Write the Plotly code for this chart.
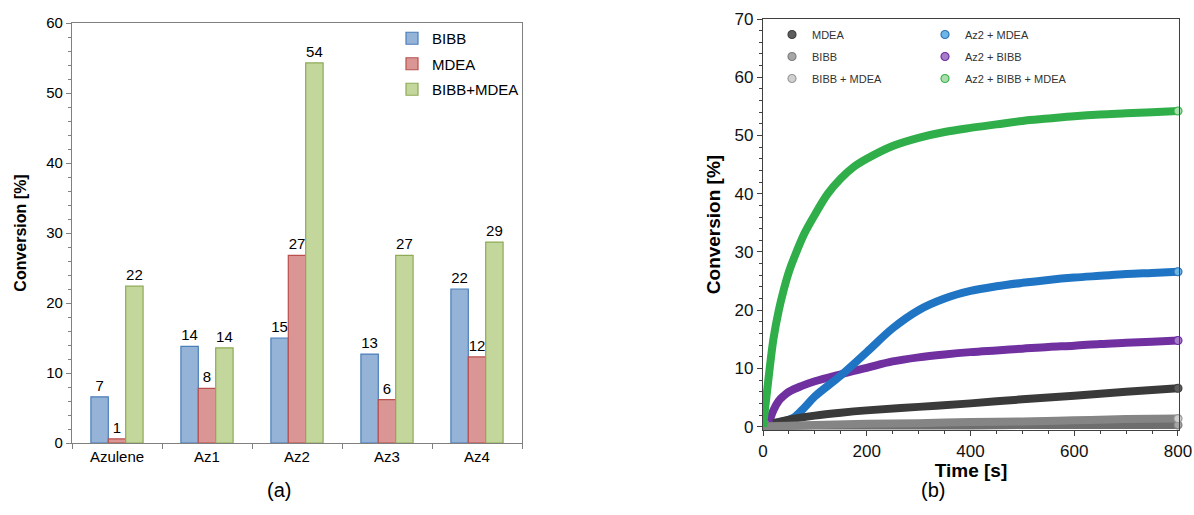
import plotly.graph_objects as go

# ---------------- data: panel (a) ----------------
categories = ["Azulene", "Az1", "Az2", "Az3", "Az4"]
bibb_vals = [6.6, 13.8, 15.0, 12.7, 22.0]
mdea_vals = [0.6, 7.8, 26.8, 6.2, 12.3]
bibb_mdea_vals = [22.4, 13.6, 54.3, 26.8, 28.7]

# ---------------- data: panel (b) ----------------
green_t = [0, 10, 20, 30, 40, 50, 60, 80, 100, 125, 150, 175, 200, 250, 300, 350, 400, 450, 500, 550, 600, 650, 700, 750, 800]
green_y = [0, 7.8, 15.0, 19.8, 23.5, 26.6, 29.0, 33.2, 36.4, 40.0, 42.6, 44.6, 46.0, 48.2, 49.6, 50.6, 51.3, 51.9, 52.5, 52.9, 53.3, 53.6, 53.8, 54.0, 54.2]

blue_t = [20, 40, 60, 80, 100, 150, 200, 250, 300, 350, 400, 450, 500, 550, 600, 650, 700, 750, 800]
blue_y = [0.6, 0.9, 1.6, 3.3, 5.2, 8.8, 12.8, 16.9, 20.0, 22.0, 23.3, 24.1, 24.7, 25.2, 25.6, 25.9, 26.2, 26.4, 26.6]

purple_t = [12, 20, 30, 40, 50, 75, 100, 150, 200, 250, 300, 350, 400, 450, 500, 550, 600, 650, 700, 750, 800]
purple_y = [0.8, 2.8, 4.4, 5.3, 6.0, 7.0, 7.8, 9.0, 10.1, 11.2, 11.9, 12.4, 12.8, 13.1, 13.4, 13.7, 13.9, 14.2, 14.4, 14.6, 14.8]

mdea_t = [20, 50, 100, 150, 200, 300, 400, 500, 600, 700, 800]
mdea_y = [0.6, 1.2, 1.9, 2.4, 2.8, 3.4, 4.0, 4.7, 5.3, 6.0, 6.6]

gray_t = [0, 100, 200, 300, 400, 500, 600, 700, 800]
bibb_y = [0.1, 0.2, 0.2, 0.2, 0.2, 0.3, 0.3, 0.3, 0.3]
bibbmdea_y = [0.0, 0.3, 0.5, 0.6, 0.8, 0.9, 1.1, 1.3, 1.4]

FONT = "Liberation Sans, Arial, sans-serif"

fig = go.Figure()

# ---------------- panel (a) bars ----------------
bar_specs = [
    ("BIBB", bibb_vals, "#95B3D7", "#4A7EBB", "la"),
    ("MDEA", mdea_vals, "#D99694", "#B9504D", "lb"),
    ("BIBB+MDEA", bibb_mdea_vals, "#C3D69B", "#8EAA55", "lc"),
]
for name, vals, fill, edge, grp in bar_specs:
    fig.add_trace(go.Bar(
        x=categories, y=vals, name=name,
        marker=dict(color=fill, line=dict(color=edge, width=1.2)),
        text=[f"{v:.0f}" for v in vals], textposition="outside",
        textfont=dict(family=FONT, size=15, color="#000000"),
        cliponaxis=False, legendgroup=grp, legend="legend",
        xaxis="x", yaxis="y",
    ))

# ---------------- panel (b) curves ----------------
series = [
    ("Az2 + BIBB", purple_t, purple_y, "#7030A0", "#A67DCB", "#7030A0", "legend3"),
    ("Az2 + MDEA", blue_t, blue_y, "#1F75C4", "#6DB6E8", "#2E75B6", "legend3"),
    ("MDEA", mdea_t, mdea_y, "#3A3A3A", "#5E5E5E", "#404040", "legend2"),
    ("BIBB", gray_t, bibb_y, "#6E6E6E", "#A6A6A6", "#808080", "legend2"),
    ("BIBB + MDEA", gray_t, bibbmdea_y, "#858585", "#D0D0D0", "#9A9A9A", "legend2"),
    ("Az2 + BIBB + MDEA", green_t, green_y, "#2FAE4A", "#A9DFAE", "#3CB44B", "legend3"),
]
legend_rank = {"MDEA": 1, "BIBB": 2, "BIBB + MDEA": 3,
               "Az2 + MDEA": 1, "Az2 + BIBB": 2, "Az2 + BIBB + MDEA": 3}
for name, t, y, band, mfill, medge, leg in series:
    fig.add_trace(go.Scatter(
        x=t, y=y, mode="lines", line=dict(color=band, width=8, shape="spline", smoothing=1.0),
        showlegend=False, hoverinfo="skip", xaxis="x2", yaxis="y2", cliponaxis=False,
    ))
    fig.add_trace(go.Scatter(
        x=t, y=y, mode="markers", name=name,
        marker=dict(color=mfill, size=8, line=dict(color=medge, width=1.2)),
        legend=leg, legendgroup=name, legendrank=legend_rank[name],
        xaxis="x2", yaxis="y2", cliponaxis=False,
        selectedpoints=[len(t) - 1],
        selected=dict(marker=dict(opacity=1)),
        unselected=dict(marker=dict(opacity=0)),
    ))

W, H = 1194, 515
def px(v):
    return v / W
def py(v):
    return 1 - v / H

axis_common = dict(showgrid=False, zeroline=False, showline=True, mirror=True,
                   ticks="outside", automargin=False)

fig.update_layout(
    width=W, height=H,
    margin=dict(l=0, r=0, t=0, b=0),
    paper_bgcolor="white", plot_bgcolor="white",
    font=dict(family=FONT, color="#000000"),
    barmode="group", bargap=0.42, bargroupgap=0,
    xaxis=dict(
        **axis_common, domain=[px(72), px(522)], anchor="y",
        type="category", tickson="boundaries", ticklen=5,
        linecolor="#808080", linewidth=1.2, tickcolor="#808080",
        tickfont=dict(family=FONT, size=15, color="#000000"),
    ),
    yaxis=dict(
        **axis_common, domain=[1 - 443 / H, 1 - 23 / H], anchor="x",
        range=[0, 60], dtick=10, ticklen=5,
        linecolor="#808080", linewidth=1.2, tickcolor="#808080",
        minor=dict(dtick=2, ticks="outside", ticklen=3, tickcolor="#808080"),
        tickfont=dict(family=FONT, size=15, color="#000000"),
        title=dict(text="<b>Conversion [%]</b>", font=dict(family=FONT, size=16), standoff=15),
    ),
    xaxis2=dict(
        **axis_common, domain=[px(763), px(1179)], anchor="y2",
        range=[0, 802], dtick=200, ticklen=5,
        linecolor="#404040", linewidth=1.2, tickcolor="#404040",
        minor=dict(dtick=50, ticks="outside", ticklen=3, tickcolor="#404040"),
        tickfont=dict(family=FONT, size=17, color="#111111"),
        title=dict(text="<b>Time [s]</b>", font=dict(family=FONT, size=19), standoff=4),
    ),
    yaxis2=dict(
        **axis_common, domain=[1 - 430 / H, 1 - 19 / H], anchor="x2",
        range=[-0.57, 70], dtick=10, ticklen=5,
        linecolor="#404040", linewidth=1.2, tickcolor="#404040",
        minor=dict(dtick=2, ticks="outside", ticklen=3, tickcolor="#404040"),
        tickfont=dict(family=FONT, size=17, color="#111111"),
        title=dict(text="<b>Conversion [%]</b>", font=dict(family=FONT, size=19), standoff=8),
    ),
    legend=dict(
        x=px(392), y=py(22), xanchor="left", yanchor="top",
        bgcolor="rgba(0,0,0,0)", font=dict(family=FONT, size=15, color="#000000"),
        tracegroupgap=3, itemwidth=30,
    ),
    legend2=dict(
        x=px(772), y=py(20), xanchor="left", yanchor="top",
        bgcolor="rgba(0,0,0,0)", font=dict(family=FONT, size=11, color="#333333"),
        tracegroupgap=3, itemwidth=30, itemsizing="trace",
    ),
    legend3=dict(
        x=px(925), y=py(20), xanchor="left", yanchor="top",
        bgcolor="rgba(0,0,0,0)", font=dict(family=FONT, size=11, color="#333333"),
        tracegroupgap=3, itemwidth=30, itemsizing="trace",
    ),
    annotations=[
        dict(text="(a)", x=px(265), y=py(503), xref="paper", yref="paper",
             showarrow=False, font=dict(family=FONT, size=20, color="#000000")),
        dict(text="(b)", x=px(947), y=py(503), xref="paper", yref="paper",
             showarrow=False, font=dict(family=FONT, size=20, color="#000000")),
    ],
)

fig.write_html(
    "out.html",
    config={"displayModeBar": False},
    post_script="document.body.style.margin='0';document.body.style.overflow='hidden';",
)
